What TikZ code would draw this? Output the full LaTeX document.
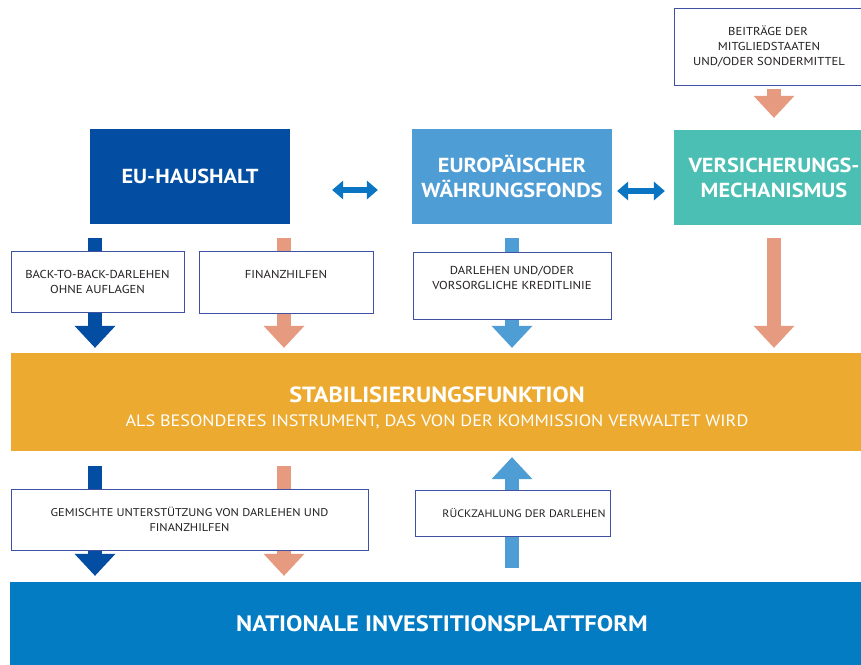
\documentclass[tikz,border=0pt]{standalone}
\usepackage{fontspec}
\setmainfont{PT Sans}[FakeStretch=1.1]
\usetikzlibrary{arrows.meta,calc}
\definecolor{eublue}{HTML}{034EA2}
\definecolor{ewfblue}{HTML}{4F9DD5}
\definecolor{teal}{HTML}{4BBFB3}
\definecolor{salmon}{HTML}{E69B80}
\definecolor{orangeband}{HTML}{ECAA30}
\definecolor{natblue}{HTML}{037CC4}
\definecolor{dblarrow}{HTML}{0A75C2}
\definecolor{boxline}{HTML}{3F51A3}
\definecolor{txt}{HTML}{231F20}
\tikzset{
  bigbox/.style={draw=none, inner sep=0pt, text=white, align=center,
     font=\bfseries\fontsize{20.3}{25}\selectfont},
  labelbox/.style={draw=boxline, line width=1pt, fill=white, inner sep=0pt,
     text=txt, align=center, font=\fontsize{11.5}{15}\selectfont},
  blockarrow/.style={line width=14pt, -{Triangle[length=22pt,width=41pt,line width=0pt]}},
  twoway/.style={draw=dblarrow, line width=6pt,
     {Triangle[length=11pt,width=19pt,line width=0pt]}-{Triangle[length=11pt,width=19pt,line width=0pt]}}
}
\begin{document}
\begin{tikzpicture}[x=1pt,y=-1pt]
\useasboundingbox (0,0) rectangle (861,664);
\fill[white] (0,0) rectangle (861,664);

% big boxes
\node[bigbox, fill=eublue, minimum width=200pt, minimum height=95pt] (eu) at (190,176.5) {EU-HAUSHALT};
\node[bigbox, fill=ewfblue, minimum width=200pt, minimum height=95pt] (ewf) at (512,176.5) {EUROPÄISCHER\\WÄHRUNGSFONDS};
\node[bigbox, fill=teal, minimum width=200pt, minimum height=95pt] (vers) at (774,177.5) {VERSICHERUNGS-\\MECHANISMUS};
\node[bigbox, fill=orangeband, minimum width=852pt, minimum height=98pt] (stab) at (437,402)
  {\rule{0pt}{28pt}\fontsize{22}{25}\selectfont STABILISIERUNGSFUNKTION\\[-1pt]
   \mdseries\fontsize{16.5}{20}\selectfont ALS BESONDERES INSTRUMENT, DAS VON DER KOMMISSION VERWALTET WIRD};
\node[bigbox, fill=natblue, minimum width=853pt, minimum height=84pt] (nat) at (436.5,624)
  {\fontsize{22.3}{26}\selectfont\hspace*{11pt}NATIONALE INVESTITIONSPLATTFORM};

% coordinates for block arrows
\coordinate (a1s) at (95,238);
\coordinate (a2s) at (284,238);
\coordinate (a3s) at (512,238);
\coordinate (a4s) at (774,238);
\coordinate (a5s) at (774,89);
\coordinate (b1s) at (95,466);
\coordinate (b2s) at (284,466);
\coordinate (b3s) at (512,568);

% block arrows (behind the label boxes)
\draw[blockarrow, draw=eublue, fill=eublue] (a1s) -- ($(stab.north -| a1s)+(0,-5)$);
\draw[blockarrow, draw=salmon, fill=salmon] (a2s) -- ($(stab.north -| a2s)+(0,-5)$);
\draw[blockarrow, draw=ewfblue, fill=ewfblue] (a3s) -- ($(stab.north -| a3s)+(0,-5)$);
\draw[blockarrow, draw=salmon, fill=salmon] (a4s) -- ($(stab.north -| a4s)+(0,-5)$);
\draw[blockarrow, draw=salmon, fill=salmon] (a5s) -- ($(vers.north -| a5s)+(0,-12)$);
\draw[blockarrow, draw=eublue, fill=eublue] (b1s) -- ($(nat.north -| b1s)+(0,-6)$);
\draw[blockarrow, draw=salmon, fill=salmon] (b2s) -- ($(nat.north -| b2s)+(0,-6)$);
\draw[blockarrow, draw=ewfblue, fill=ewfblue] (b3s) -- ($(stab.south -| b3s)+(0,6)$);

% two-way arrows
\draw[twoway, fill=dblarrow] ($(eu.east)+(42,13.5)$) -- ($(ewf.west)+(-34,13.5)$);
\draw[twoway, fill=dblarrow] ($(ewf.east)+(5,14.5)$) -- ($(vers.west)+(-9,13.5)$);

% label boxes
\node[labelbox, minimum width=190pt, minimum height=77pt] (beit) at (769,46.5)
  {\hspace*{-2pt}BEITRÄGE DER\\MITGLIEDSTAATEN\\UND/ODER SONDERMITTEL};
\node[labelbox, minimum width=173pt, minimum height=61pt] (btb) at (97.5,281.5)
  {BACK-TO-BACK-DARLEHEN\\OHNE AUFLAGEN};
\node[labelbox, minimum width=174pt, minimum height=62pt] (fin) at (286,282)
  {FINANZHILFEN\\\mbox{}};
\node[labelbox, minimum width=198pt, minimum height=67pt] (dar) at (512,285.5)
  {DARLEHEN UND/ODER\\VORSORGLICHE KREDITLINIE\\\mbox{}};
\node[labelbox, minimum width=357pt, minimum height=61pt, font=\fontsize{11.2}{15}\selectfont] (gem) at (189.5,519.5)
  {GEMISCHTE UNTERSTÜTZUNG VON DARLEHEN UND\\FINANZHILFEN};
\node[labelbox, minimum width=195pt, minimum height=46pt, font=\fontsize{10.8}{15}\selectfont] (rueck) at (512.5,513)
  {\hspace*{23pt}RÜCKZAHLUNG DER DARLEHEN};
\end{tikzpicture}
\end{document}
